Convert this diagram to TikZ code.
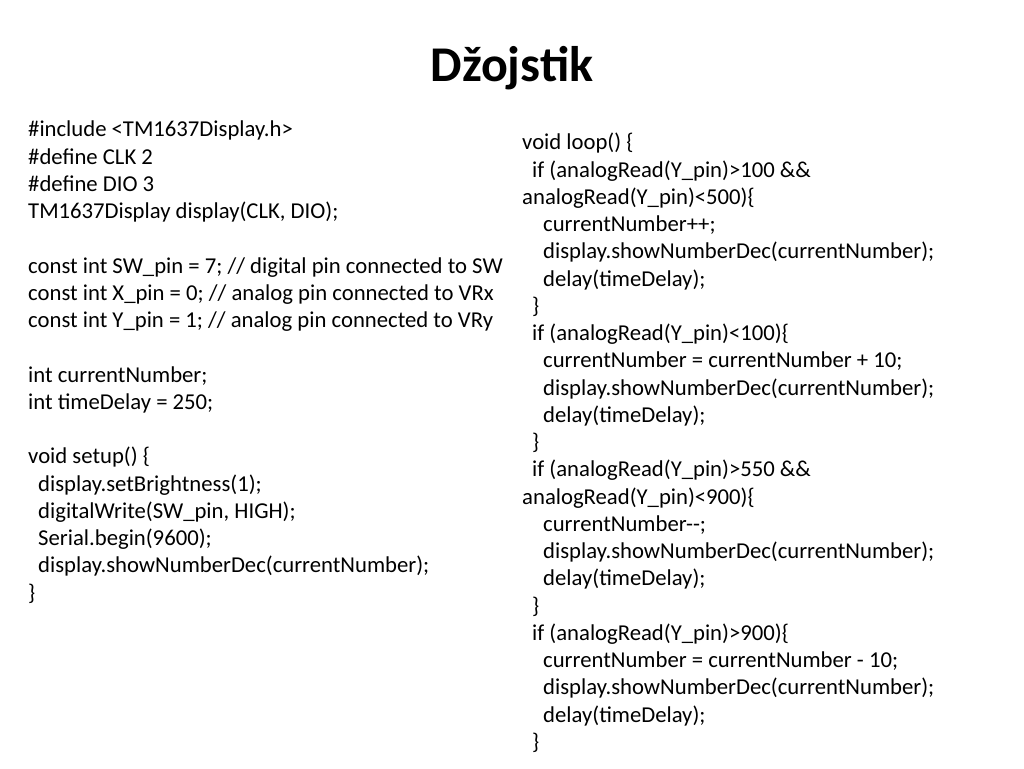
\documentclass[tikz,border=0pt]{standalone}
\usepackage{fontspec}
\setmainfont{Carlito}
\begin{document}
\begin{tikzpicture}[x=1pt,y=-1pt,
  code/.style={anchor=north west,align=left,inner sep=0pt,font=\fontsize{22.7}{27.25}\selectfont}]
\useasboundingbox (0,0) rectangle (1024,768);
\newcommand{\ia}{\hspace*{10pt}}
\newcommand{\ib}{\hspace*{21pt}}
\node[font=\bfseries\fontsize{50}{56}\selectfont] (title) at (512,68) {Džojstik};
\node[code] (left) at (28,121) {\#include <TM1637Display.h>\\
\#define CLK 2\\
\#define DIO 3\\
TM1637Display display(CLK, DIO);\\
~\\
const int SW\_pin = 7; // digital pin connected to SW\\
const int X\_pin = 0; // analog pin connected to VRx\\
const int Y\_pin = 1; // analog pin connected to VRy\\
~\\
int currentNumber;\\
int timeDelay = 250;\\
~\\
void setup() \{\\
\ia display.setBrightness(1);\\
\ia digitalWrite(SW\_pin, HIGH);\\
\ia Serial.begin(9600);\\
\ia display.showNumberDec(currentNumber);\\
\}};
\node[code] (right) at (522,133) {void loop() \{\\
\ia if (analogRead(Y\_pin)>100 \&\&\\
analogRead(Y\_pin)<500)\{\\
\ib currentNumber++;\\
\ib display.showNumberDec(currentNumber);\\
\ib delay(timeDelay);\\
\ia \}\\
\ia if (analogRead(Y\_pin)<100)\{\\
\ib currentNumber = currentNumber + 10;\\
\ib display.showNumberDec(currentNumber);\\
\ib delay(timeDelay);\\
\ia \}\\
\ia if (analogRead(Y\_pin)>550 \&\&\\
analogRead(Y\_pin)<900)\{\\
\ib currentNumber-{}-;\\
\ib display.showNumberDec(currentNumber);\\
\ib delay(timeDelay);\\
\ia \}\\
\ia if (analogRead(Y\_pin)>900)\{\\
\ib currentNumber = currentNumber - 10;\\
\ib display.showNumberDec(currentNumber);\\
\ib delay(timeDelay);\\
\ia \}};
\end{tikzpicture}
\end{document}
